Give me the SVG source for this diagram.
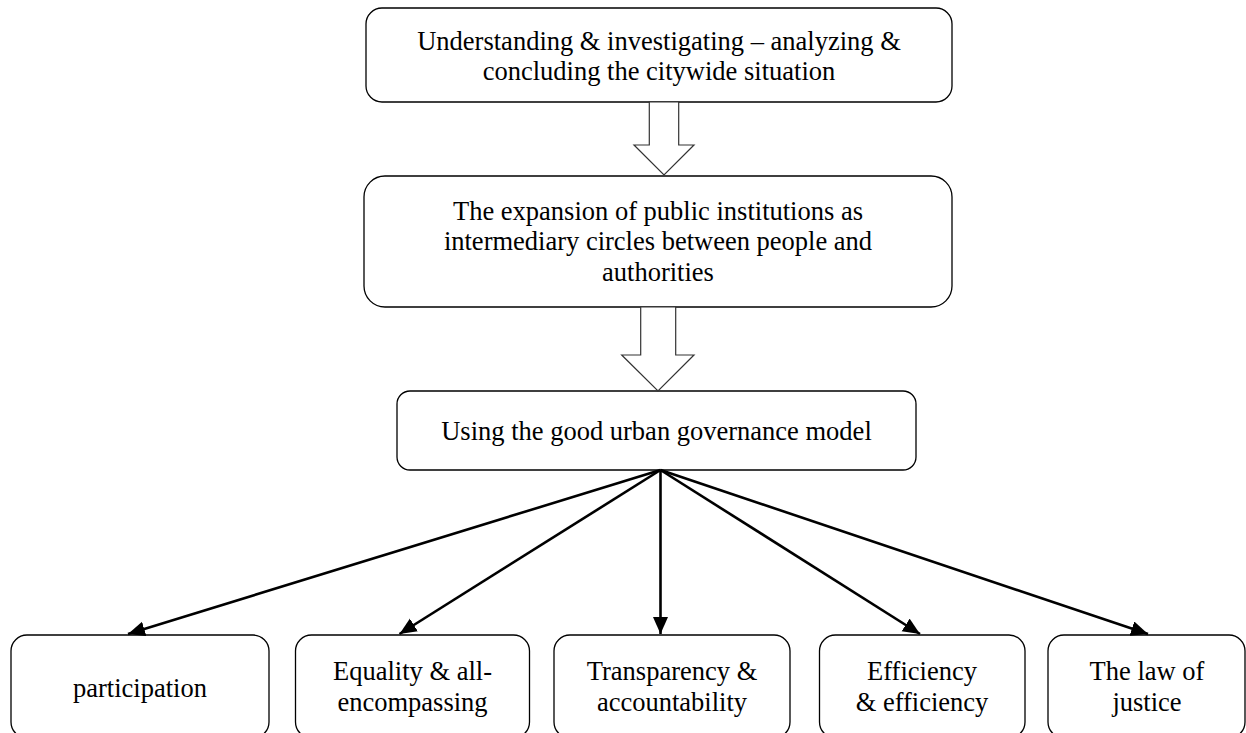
<svg xmlns="http://www.w3.org/2000/svg" width="1246" height="733" viewBox="0 0 1246 733">
<style>
.box{fill:#fff;stroke:#000;stroke-width:1.3}
.big{fill:#fff;stroke:#333;stroke-width:1.2}
text{font-family:"Liberation Serif","Times New Roman",serif;font-size:26.5px;fill:#000;text-anchor:middle}
.conn{stroke:#000;stroke-width:2.6;fill:none;marker-end:url(#ah)}
</style>
<defs>
<marker id="ah" markerUnits="userSpaceOnUse" markerWidth="18" markerHeight="16" refX="17" refY="7.5" orient="auto">
<path d="M0,0 L17,7.5 L0,15 z" fill="#000"/>
</marker>
</defs>
<rect width="1246" height="733" fill="#fff"/>
<g id="n1">
<rect class="box" x="366" y="8" width="586" height="94" rx="16"/>
<text x="659" y="50">Understanding &amp; investigating – analyzing &amp;</text>
<text x="659" y="80">concluding the citywide situation</text>
</g>
<g id="n2">
<rect class="box" x="364" y="176" width="588" height="131" rx="21"/>
<text x="658" y="220">The expansion of public institutions as</text>
<text x="658" y="250">intermediary circles between people and</text>
<text x="658" y="281">authorities</text>
</g>
<g id="n3">
<rect class="box" x="397" y="391" width="519" height="79" rx="13"/>
<text x="656.5" y="440">Using the good urban governance model</text>
</g>
<g id="n4">
<rect class="box" x="11" y="635" width="258" height="103" rx="16"/>
<text x="140" y="697">participation</text>
</g>
<g id="n5">
<rect class="box" x="295.5" y="635" width="234" height="103" rx="16"/>
<text x="412.5" y="680">Equality &amp; all-</text>
<text x="412.5" y="711">encompassing</text>
</g>
<g id="n6">
<rect class="box" x="554" y="635" width="236" height="103" rx="16"/>
<text x="672" y="680">Transparency &amp;</text>
<text x="672" y="711">accountability</text>
</g>
<g id="n7">
<rect class="box" x="819.5" y="635" width="205.5" height="103" rx="16"/>
<text x="922" y="680">Efficiency</text>
<text x="922" y="711">&amp; efficiency</text>
</g>
<g id="n8">
<rect class="box" x="1048" y="635" width="197" height="103" rx="16"/>
<text x="1147" y="680">The law of</text>
<text x="1147" y="711">justice</text>
</g>
<g id="connectors">
<polygon class="big" points="649.3,102 678.7,102 678.7,145 694,145 664,175 634,145 649.3,145"/>
<polygon class="big" points="640.7,307 675.7,307 675.7,355 694,355 658,391 621.7,355 640.7,355"/>
<line class="conn" x1="660.5" y1="470" x2="128" y2="634"/>
<line class="conn" x1="660.5" y1="470" x2="399.5" y2="634"/>
<line class="conn" x1="660.5" y1="470" x2="660.5" y2="634"/>
<line class="conn" x1="660.5" y1="470" x2="920" y2="634"/>
<line class="conn" x1="660.5" y1="470" x2="1148" y2="634"/>
</g>
</svg>
